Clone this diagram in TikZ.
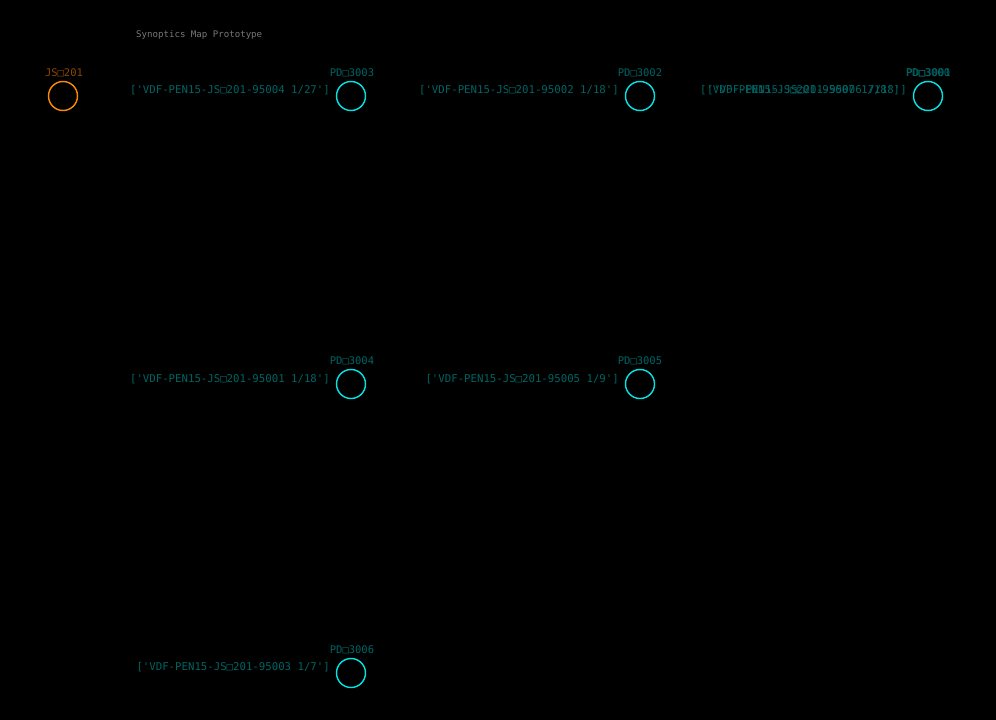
\documentclass[tikz,border=0pt]{standalone}
\usepackage{fontspec}
\setmonofont{DejaVu Sans Mono}
\definecolor{bg}{RGB}{0,0,0}
\definecolor{orng}{RGB}{255,140,0}
\definecolor{orngtxt}{RGB}{140,70,0}
\definecolor{cyn}{RGB}{0,230,230}
\definecolor{cyntxt}{RGB}{0,100,100}
\definecolor{titlegray}{RGB}{120,120,120}
\tikzset{
  pdnode/.style={circle,draw=cyn,line width=1.4pt,minimum size=29pt,inner sep=0pt},
  jsnode/.style={circle,draw=orng,line width=1.4pt,minimum size=29pt,inner sep=0pt},
  namelbl/.style={font=\ttfamily\fontsize{10.5}{10.5}\selectfont,text=cyntxt,inner sep=0pt},
  jslbl/.style={font=\ttfamily\fontsize{10.5}{10.5}\selectfont,text=orngtxt,inner sep=0pt},
  edgelbl/.style={font=\ttfamily\fontsize{10.7}{10.7}\selectfont,text=cyntxt,inner sep=0pt,anchor=east},
  titlelbl/.style={font=\ttfamily\fontsize{9.1}{9.1}\selectfont,text=titlegray,inner sep=0pt,anchor=west}
}
\begin{document}
\begin{tikzpicture}[x=1pt,y=-1pt]
\fill[bg] (0,0) rectangle (996,720);
\useasboundingbox (0,0) rectangle (996,720);
\node[titlelbl] (title) at (136,35) {Synoptics Map Prototype};
% nodes
\node[jsnode] (js) at (63,96) {};
\node[pdnode] (p3003) at (351,96) {};
\node[pdnode] (p3002) at (640,96) {};
\node[pdnode] (p3000) at (928,96) {};
\node[pdnode] (p3004) at (351,384) {};
\node[pdnode] (p3005) at (640,384) {};
\node[pdnode] (p3006) at (351,673) {};
% names
\node[jslbl] (njs) at (64,73) {JS□201};
\node[namelbl] (n3003) at (352,73) {PD□3003};
\node[namelbl] (n3002) at (640,73) {PD□3002};
\node[namelbl] (n3000) at (928,73) {PD□3000};
\node[namelbl] (n3001) at (928.6,73) {PD□3001};
\node[namelbl] (n3004) at (352,361) {PD□3004};
\node[namelbl] (n3005) at (640,361) {PD□3005};
\node[namelbl] (n3006) at (352,650) {PD□3006};
% edge labels
\node[edgelbl] (e3003) at (330,90) {['VDF-PEN15-JS□201-95004 1/27']};
\node[edgelbl] (e3002) at (619,90) {['VDF-PEN15-JS□201-95002 1/18']};
\node[edgelbl] (e3000) at (907,90) {['VDF-PEN15-JS□201-95006 7/18']};
\node[edgelbl] (e3001) at (900,90) {['VDF-PEN15-JS□201-95007 1/18']};
\node[edgelbl] (e3004) at (330,379) {['VDF-PEN15-JS□201-95001 1/18']};
\node[edgelbl] (e3005) at (619,379) {['VDF-PEN15-JS□201-95005 1/9']};
\node[edgelbl] (e3006) at (330,667) {['VDF-PEN15-JS□201-95003 1/7']};
\end{tikzpicture}
\end{document}
